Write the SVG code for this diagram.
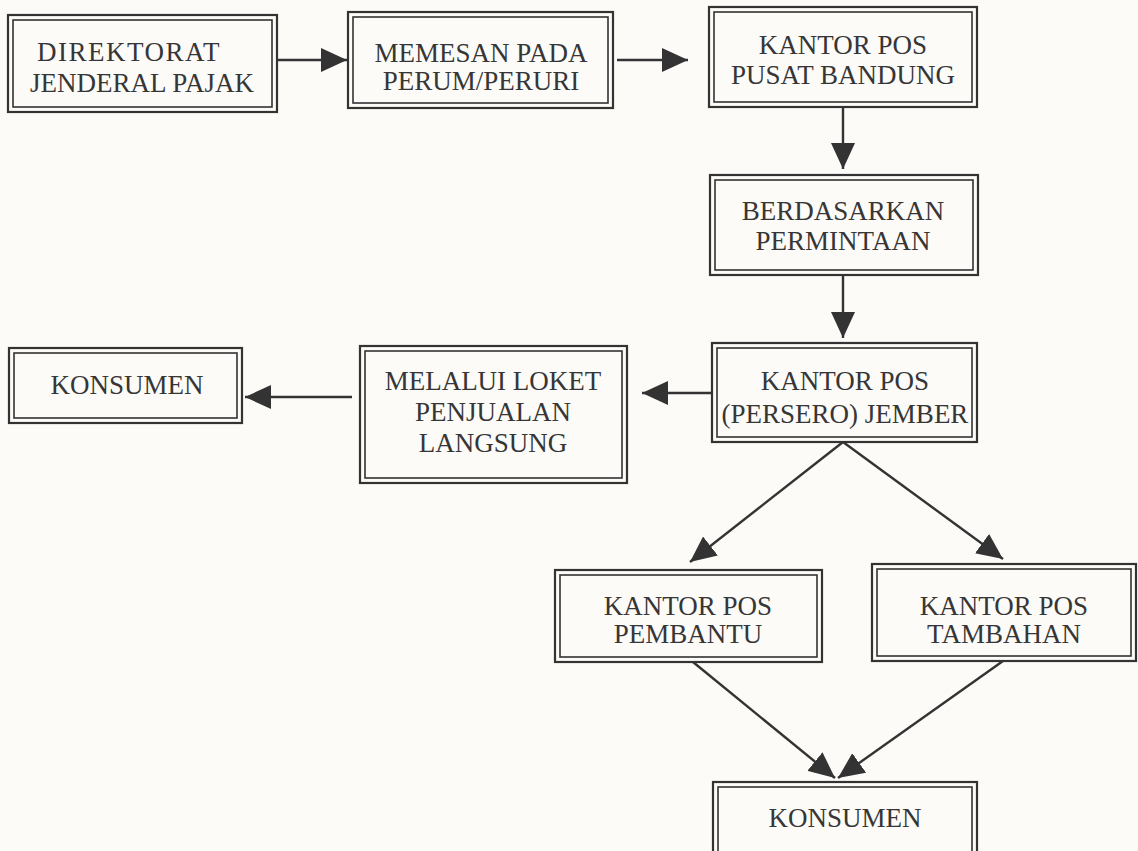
<svg xmlns="http://www.w3.org/2000/svg" width="1138" height="851" viewBox="0 0 1138 851">
<style>
.o{fill:none;stroke:#333;stroke-width:2.2}
.i{fill:none;stroke:#333;stroke-width:1.6}
.t{font-family:"Liberation Serif","Times New Roman",serif;font-size:27px;fill:#363636;text-anchor:middle}
.c{fill:none;stroke:#333;stroke-width:2.4}
</style>
<defs>
<marker id="ah" markerUnits="userSpaceOnUse" markerWidth="27" markerHeight="24" viewBox="0 0 27 24" refX="26" refY="12" orient="auto">
<path d="M0,0 L26,12 L0,24 z" fill="#333"/>
</marker>
</defs>
<rect width="1138" height="851" fill="#fcfbf8"/>
<g id="connectors">
<line class="c" x1="277" y1="60" x2="347" y2="60" marker-end="url(#ah)"/>
<line class="c" x1="617" y1="60" x2="688" y2="60" marker-end="url(#ah)"/>
<line class="c" x1="843" y1="107" x2="843" y2="169" marker-end="url(#ah)"/>
<line class="c" x1="843" y1="276" x2="843" y2="338" marker-end="url(#ah)"/>
<line class="c" x1="712" y1="393" x2="642" y2="393" marker-end="url(#ah)"/>
<line class="c" x1="352" y1="397" x2="245" y2="397" marker-end="url(#ah)"/>
<line class="c" x1="843" y1="442" x2="690" y2="562" marker-end="url(#ah)"/>
<line class="c" x1="843" y1="442" x2="1003" y2="559" marker-end="url(#ah)"/>
<line class="c" x1="693" y1="662" x2="835" y2="778" marker-end="url(#ah)"/>
<line class="c" x1="1003" y1="661" x2="838" y2="778" marker-end="url(#ah)"/>
</g>
<g id="n1">
<rect class="o" x="8" y="15" width="269" height="97"/>
<rect class="i" x="13" y="20" width="259" height="87"/>
<text class="t" x="129" y="61" letter-spacing="1.5">DIREKTORAT</text>
<text class="t" x="142" y="92">JENDERAL PAJAK</text>
</g>
<g id="n2">
<rect class="o" x="348" y="12" width="265" height="96"/>
<rect class="i" x="353" y="17" width="255" height="86"/>
<text class="t" x="481" y="62">MEMESAN PADA</text>
<text class="t" x="481" y="90">PERUM/PERURI</text>
</g>
<g id="n3">
<rect class="o" x="709" y="7" width="268" height="100"/>
<rect class="i" x="714" y="12" width="258" height="90"/>
<text class="t" x="843" y="54">KANTOR POS</text>
<text class="t" x="843" y="84">PUSAT BANDUNG</text>
</g>
<g id="n4">
<rect class="o" x="710" y="175" width="268" height="100"/>
<rect class="i" x="715" y="180" width="258" height="90"/>
<text class="t" x="843" y="220">BERDASARKAN</text>
<text class="t" x="843" y="250">PERMINTAAN</text>
</g>
<g id="n5">
<rect class="o" x="712" y="343" width="265" height="99"/>
<rect class="i" x="717" y="348" width="255" height="89"/>
<text class="t" x="845" y="390">KANTOR POS</text>
<text class="t" x="845" y="423">(PERSERO) JEMBER</text>
</g>
<g id="n6">
<rect class="o" x="360" y="346" width="267" height="137"/>
<rect class="i" x="365" y="351" width="257" height="127"/>
<text class="t" x="493" y="390">MELALUI LOKET</text>
<text class="t" x="493" y="421">PENJUALAN</text>
<text class="t" x="493" y="452">LANGSUNG</text>
</g>
<g id="n7">
<rect class="o" x="9" y="348" width="233" height="75"/>
<rect class="i" x="14" y="353" width="223" height="65"/>
<text class="t" x="127" y="394">KONSUMEN</text>
</g>
<g id="n8">
<rect class="o" x="555" y="570" width="267" height="92"/>
<rect class="i" x="560" y="575" width="257" height="82"/>
<text class="t" x="688" y="615">KANTOR POS</text>
<text class="t" x="688" y="643">PEMBANTU</text>
</g>
<g id="n9">
<rect class="o" x="872" y="564" width="264" height="97"/>
<rect class="i" x="877" y="569" width="254" height="87"/>
<text class="t" x="1004" y="615">KANTOR POS</text>
<text class="t" x="1004" y="643">TAMBAHAN</text>
</g>
<g id="n10">
<rect class="o" x="713" y="782" width="264" height="80"/>
<rect class="i" x="718" y="787" width="254" height="70"/>
<text class="t" x="845" y="827">KONSUMEN</text>
</g>
</svg>
